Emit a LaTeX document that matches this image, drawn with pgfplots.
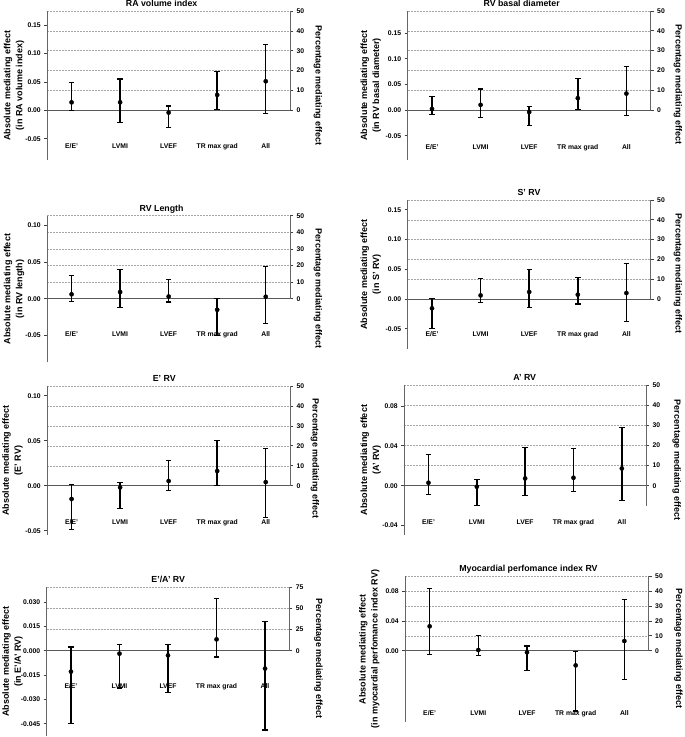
\documentclass[border=0pt]{standalone}
\usepackage{fontspec}
\setmainfont{Liberation Sans}
\usepackage{pgfplots}
\usepackage{pgfplotstable}
\pgfplotsset{compat=1.18}

% x: category index, y: estimate, lo/hi: confidence limits
\pgfplotstableread{
x y lo hi
0 0.014 -0.001 0.049
1 0.014 -0.021 0.055
2 -0.004 -0.031 0.0075
3 0.027 0.002 0.068
4 0.051 -0.005 0.116
}\tabA
\pgfplotstableread{
x y lo hi
0 0.002 -0.008 0.026
1 0.010 -0.015 0.041
2 -0.004 -0.030 0.007
3 0.023 0.001 0.061
4 0.032 -0.011 0.085
}\tabB
\pgfplotstableread{
x y lo hi
0 0.006 -0.004 0.031
1 0.009 -0.012 0.040
2 0.003 -0.0045 0.026
3 -0.015 -0.050 0.000
4 0.0027 -0.034 0.0436
}\tabC
\pgfplotstableread{
x y lo hi
0 -0.0157 -0.049 0.001
1 0.006 -0.0056 0.034
2 0.0118 -0.015 0.049
3 0.0073 -0.0084 0.036
4 0.010 -0.0375 0.059
}\tabD
\pgfplotstableread{
x y lo hi
0 -0.0148 -0.049 0.001
1 -0.0019 -0.025 0.0037
2 0.0052 -0.0052 0.0278
3 0.0163 0.000 0.050
4 0.004 -0.035 0.041
}\tabE
\pgfplotstableread{
x y lo hi
0 0.003 -0.0087 0.031
1 -0.001 -0.020 0.006
2 0.0073 -0.010 0.038
3 0.008 -0.006 0.037
4 0.0173 -0.015 0.058
}\tabF
\pgfplotstableread{
x y lo hi
0 -0.0129 -0.045 0.0023
1 -0.0018 -0.023 0.0041
2 -0.0029 -0.0259 0.0041
3 0.007 -0.0039 0.032
4 -0.011 -0.0489 0.018
}\tabG
\pgfplotstableread{
x y lo hi
0 0.0328 -0.0054 0.0836
1 0.0009 -0.0063 0.0207
2 -0.0022 -0.027 0.0063
3 -0.0198 -0.0813 -0.001
4 0.013 -0.0387 0.069
}\tabH

\newcommand\tfont{\fontsize{6.8}{8}\selectfont\bfseries}
\pgfplotsset{
  mainax/.style={
    scale only axis, anchor=north west, clip=false,
    xmin=-0.5, xmax=4.5,
    axis y line*=left, axis x line*=bottom,
    x axis line style={draw=none},
    xtick={0,1,2,3,4},
    xticklabels={E/E',LVMI,LVEF,TR max grad,All},
    x tick style={draw=none},
    y axis line style={draw=black!60, line width=1pt},
    y tick style={draw=black!75, line width=0.7pt},
    tick align=outside, major tick length=3pt,
    scaled y ticks=false,
    yticklabel style={/pgf/number format/.cd, fixed, fixed zerofill, precision=2, assume math mode=true},
    tick label style={font=\tfont},
    title style={font=\fontsize{8.8}{10}\selectfont\bfseries, anchor=base},
    ylabel style={font=\fontsize{9}{12}\selectfont\bfseries, align=center, anchor=center},
  },
  pctax/.style={
    scale only axis, anchor=north west,
    xmin=-0.5, xmax=4.5, xtick=\empty,
    axis y line*=right, axis x line=none,
    ymajorgrids,
    grid style={dash pattern=on 2pt off 1pt, black!35, line width=0.5pt},
    y axis line style={draw=black!60, line width=1pt},
    y tick style={draw=black!75, line width=0.7pt},
    tick align=outside, major tick length=3pt,
    yticklabel style={font=\tfont, /pgf/number format/assume math mode=true},
    ylabel={Percentage mediating effect},
    ylabel style={font=\fontsize{9}{12}\selectfont\bfseries, rotate=180, anchor=center},
  },
  zeroline/.style={black!65, line width=0.9pt, forget plot},
  ci/.style={only marks, mark=*, mark size=2.1pt, black,
    error bars/.cd, y dir=both, y explicit,
    error bar style={line width=1.5pt, black},
    error mark options={rotate=90, mark size=2.7pt, line width=1.1pt, black}},
  /pgfplots/table/citab/.style={x=x, y=y,
    y error plus expr=\thisrow{hi}-\thisrow{y},
    y error minus expr=\thisrow{y}-\thisrow{lo}},
}

\begin{document}
\begin{tikzpicture}
\useasboundingbox (0pt,0pt) rectangle (685pt,737pt);

% ---------- Panel 1: RA volume index
\begin{axis}[pctax, at={(47.3pt,726pt)}, width=242.7pt, height=99.3pt,
  ymin=0, ymax=50, ytick={0,10,20,30,40,50},
  ylabel style={at={(axis description cs:1.115,0.245)}}]
\end{axis}
\begin{axis}[mainax, at={(47.3pt,726pt)}, width=242.7pt, height=149pt,
  ymin=-0.0874, ymax=0.1746, ytick={-0.05,0,0.05,0.10,0.15},
  xticklabel style={anchor=base, yshift=14.3pt},
  title={RA volume index}, title style={at={(axis description cs:0.471,1)}, yshift=-1.7pt},
  ylabel={Absolute mediating effect\\(in RA volume index)},
  ylabel style={at={(axis description cs:-0.137,0.5)}}]
\addplot[zeroline] coordinates {(-0.5,0) (4.5,0)};
\addplot[ci] table[citab] {\tabA};
\end{axis}

% ---------- Panel 2: RV basal diameter
\begin{axis}[pctax, at={(407.7pt,726pt)}, width=243pt, height=99pt,
  ymin=0, ymax=50, ytick={0,10,20,30,40,50},
  ylabel style={at={(axis description cs:1.112,0.253)}}]
\end{axis}
\begin{axis}[mainax, at={(407.7pt,726pt)}, width=243pt, height=149pt,
  ymin=-0.0974, ymax=0.1929, ytick={-0.05,0,0.05,0.10,0.15},
  xticklabel style={anchor=base, yshift=13.6pt},
  title={RV basal diameter}, title style={at={(axis description cs:0.469,1)}, yshift=-1.7pt},
  ylabel={Absolute mediating effect\\(in RV basal diameter)},
  ylabel style={at={(axis description cs:-0.152,0.5)}}]
\addplot[zeroline] coordinates {(-0.5,0) (4.5,0)};
\addplot[ci] table[citab] {\tabB};
\end{axis}

% ---------- Panel 3: RV Length
\begin{axis}[pctax, at={(47.3pt,521.3pt)}, width=242.7pt, height=83pt,
  ymin=0, ymax=50, ytick={0,10,20,30,40,50},
  ylabel style={at={(axis description cs:1.115,0.117)}}]
\end{axis}
\begin{axis}[mainax, at={(47.3pt,521.3pt)}, width=242.7pt, height=146.6pt,
  ymin=-0.0864, ymax=0.1128, ytick={-0.05,0,0.05,0.10},
  xticklabel style={anchor=base, yshift=28.6pt},
  title={RV Length}, title style={at={(axis description cs:0.471,1)}, yshift=-1.7pt},
  ylabel={Absolute mediating effect\\(in RV length)},
  ylabel style={at={(axis description cs:-0.137,0.5)}}]
\addplot[zeroline] coordinates {(-0.5,0) (4.5,0)};
\addplot[ci] table[citab] {\tabC};
\end{axis}

% ---------- Panel 4: S' RV
\begin{axis}[pctax, at={(407.7pt,537pt)}, width=243pt, height=99pt,
  ymin=0, ymax=50, ytick={0,10,20,30,40,50},
  ylabel style={at={(axis description cs:1.112,0.253)}}]
\end{axis}
\begin{axis}[mainax, at={(407.7pt,537pt)}, width=243pt, height=149pt,
  ymin=-0.084, ymax=0.1663, ytick={-0.05,0,0.05,0.10,0.15},
  xticklabel style={anchor=base, yshift=15.1pt},
  title={S' RV}, title style={at={(axis description cs:0.499,1)}, yshift=-1.7pt},
  ylabel={Absolute mediating effect\\(in S' RV)},
  ylabel style={at={(axis description cs:-0.152,0.5)}}]
\addplot[zeroline] coordinates {(-0.5,0) (4.5,0)};
\addplot[ci] table[citab] {\tabD};
\end{axis}

% ---------- Panel 5: E' RV
\begin{axis}[pctax, at={(47.3pt,351pt)}, width=242.7pt, height=99.7pt,
  ymin=0, ymax=50, ytick={0,10,20,30,40,50},
  ylabel style={at={(axis description cs:1.103,0.268)}}]
\end{axis}
\begin{axis}[mainax, at={(47.3pt,351pt)}, width=242.7pt, height=149pt,
  ymin=-0.0548, ymax=0.1108, ytick={-0.05,0,0.05,0.10},
  xticklabel style={anchor=base, yshift=13.9pt},
  title={E' RV}, title style={at={(axis description cs:0.482,1)}, yshift=-1.7pt},
  ylabel={Absolute mediating effect\\(E' RV)},
  ylabel style={at={(axis description cs:-0.143,0.5)}}]
\addplot[zeroline] coordinates {(-0.5,0) (4.5,0)};
\addplot[ci] table[citab] {\tabE};
\end{axis}

% ---------- Panel 6: A' RV
\begin{axis}[pctax, at={(404.3pt,352pt)}, width=241.7pt, height=120.8pt,
  ymin=-10, ymax=50, ytick={0,10,20,30,40,50},
  ylabel style={at={(axis description cs:1.127,0.379)}}]
\end{axis}
\begin{axis}[mainax, at={(404.3pt,352pt)}, width=241.7pt, height=150pt,
  ymin=-0.0494, ymax=0.101, ytick={-0.04,0,0.04,0.08},
  xticklabel style={anchor=base, yshift=13.6pt},
  title={A' RV}, title style={at={(axis description cs:0.498,1)}, yshift=-1.7pt},
  ylabel={Absolute mediating effect\\(A' RV)},
  ylabel style={at={(axis description cs:-0.139,0.5)}}]
\addplot[zeroline] coordinates {(-0.5,0) (4.5,0)};
\addplot[ci] table[citab] {\tabF};
\end{axis}

% ---------- Panel 7: E'/A' RV
\begin{axis}[pctax, at={(46.7pt,150pt)}, width=242.6pt, height=63.7pt,
  ymin=0, ymax=75, ytick={0,25,50,75},
  ylabel style={at={(axis description cs:1.12,-0.13)}}]
\end{axis}
\begin{axis}[mainax, at={(46.7pt,150pt)}, width=242.6pt, height=149pt,
  ymin=-0.0526, ymax=0.0393, ytick={-0.045,-0.03,-0.015,0,0.015,0.03},
  yticklabel style={/pgf/number format/precision=3},
  xticklabel style={anchor=base, yshift=50.3pt},
  title={E'/A' RV}, title style={at={(axis description cs:0.501,1)}, yshift=-1.7pt},
  ylabel={Absolute mediating effect\\(in E'/A' RV)},
  ylabel style={at={(axis description cs:-0.141,0.5)}}]
\addplot[zeroline] coordinates {(-0.5,0) (4.5,0)};
\addplot[ci] table[citab] {\tabG};
\end{axis}

% ---------- Panel 8: Myocardial perfomance index RV
\begin{axis}[pctax, at={(405.3pt,160.7pt)}, width=243.4pt, height=74.4pt,
  ymin=0, ymax=50, ytick={0,10,20,30,40,50},
  ylabel style={at={(axis description cs:1.122,0.023)}}]
\end{axis}
\begin{axis}[mainax, at={(405.3pt,160.7pt)}, width=243.4pt, height=145.7pt,
  ymin=-0.0961, ymax=0.1002, ytick={0,0.04,0.08},
  xticklabel style={anchor=base, yshift=9.6pt},
  title={Myocardial perfomance index RV}, title style={at={(axis description cs:0.506,1)}, yshift=-1.7pt},
  ylabel={Absolute mediating effect\\(in myocardial perfomance index RV)},
  ylabel style={at={(axis description cs:-0.148,0.5)}}]
\addplot[zeroline] coordinates {(-0.5,0) (4.5,0)};
\addplot[ci] table[citab] {\tabH};
\end{axis}
\end{tikzpicture}
\end{document}
